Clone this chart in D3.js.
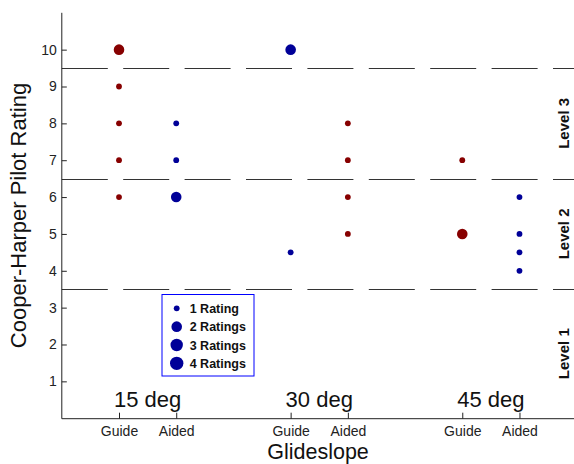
<!DOCTYPE html>
<html><head><meta charset="utf-8">
<script src="https://cdn.jsdelivr.net/npm/d3@7"></script>
<style>body{margin:0;background:#fff}svg{display:block;font-family:"Liberation Sans",Arial,sans-serif}</style>
</head><body>
<script>
// ---- data ----
const categories = ["Guide","Aided","Guide","Aided","Guide","Aided"];
const categoryX = [1,2,4,5,7,8];
const categorySeries = ["red","blue","blue","red","red","blue"];
const groups = ["15 deg","30 deg","45 deg"];
const groupX = [1.5,4.5,7.5];
const pointCategory = [0,0,0,0,0, 1,1,1, 2,2, 3,3,3,3, 4,4, 5,5,5,5];
const pointRating   = [10,9,8,7,6, 8,7,6, 10,4.5, 8,7,6,5, 7,5, 6,5,4.5,4];
const pointCount    = [2,1,1,1,1, 1,1,2, 2,1, 1,1,1,1, 1,2, 1,1,1,1];
const yTicks = [1,2,3,4,5,6,7,8,9,10];
const boundaries = [3.5,6.5,9.5];
const levelLabels = ["Level 1","Level 2","Level 3"];
const levelY = [1.75,5,8];
const legendCounts = [1,2,3,4];
const legendLabels = ["1 Rating","2 Ratings","3 Ratings","4 Ratings"];

// ---- layout ----
const W=574,H=464;
const svg=d3.select("body").append("svg").attr("width",W).attr("height",H);
const x=d3.scaleLinear().domain([0,9]).range([61.8,61.8+9*57.21]);
const y=d3.scaleLinear().domain([0,11]).range([418.2,12.8]);
const r=d3.scaleOrdinal().domain([1,2,3,4]).range([2.9,5.3,6.2,6.7]);
const color=d3.scaleOrdinal().domain(["red","blue"]).range(["#870000","#000098"]);
const axisColor="#222";

// boundaries (dashed)
svg.append("g").selectAll("line").data(boundaries).join("line")
  .attr("x1",x(0)).attr("x2",W+10).attr("y1",d=>Math.round(y(d))+0.5).attr("y2",d=>Math.round(y(d))+0.5)
  .attr("stroke","#333").attr("stroke-width",1.2).attr("stroke-dasharray","46,15.4");

// y axis
const yAxis=d3.axisLeft(y).tickValues(yTicks).tickSize(-5).tickPadding(5).tickFormat(d3.format("d"));
const gy=svg.append("g").attr("transform",`translate(${x(0)},0)`).call(yAxis);
gy.select(".domain").attr("d",`M0,${y(11)}V${y(0)+0.5}`).attr("stroke",axisColor);
gy.selectAll(".tick line").attr("stroke",axisColor);
gy.selectAll(".tick text").attr("font-size",14).attr("fill","#222").attr("font-family","Liberation Sans, Arial, sans-serif");

// x axis
const xAxis=d3.axisBottom(x).tickValues(categoryX).tickSize(-6).tickPadding(7.5).tickFormat((d,i)=>categories[i]);
const gx=svg.append("g").attr("transform",`translate(0,${y(0)+0.5})`).call(xAxis);
gx.select(".domain").attr("d",`M${x(0)},0H${W+10}`).attr("stroke",axisColor);
gx.selectAll(".tick line").attr("stroke",axisColor);
gx.selectAll(".tick text").attr("font-size",14).attr("fill","#222").attr("font-family","Liberation Sans, Arial, sans-serif");

// group labels
svg.append("g").selectAll("text").data(groups).join("text")
  .attr("x",(d,i)=>x(groupX[i])).attr("y",y(0.31)).attr("text-anchor","middle")
  .attr("font-size",22).attr("fill","#111").text(d=>d);

// level labels
svg.append("g").selectAll("text").data(levelLabels).join("text")
  .attr("transform",(d,i)=>`translate(${x(8.86)},${y(levelY[i])}) rotate(-90)`)
  .attr("text-anchor","middle").attr("font-size",15).attr("font-weight","bold").attr("fill","#111").text(d=>d);

// axis titles
svg.append("text").attr("transform",`translate(26,${(y(11)+y(0))/2}) rotate(-90)`)
  .attr("text-anchor","middle").attr("font-size",22).attr("fill","#111").text("Cooper-Harper Pilot Rating");
svg.append("text").attr("x",318).attr("y",459.3).attr("text-anchor","middle")
  .attr("font-size",21.5).attr("fill","#111").text("Glideslope");

// points
svg.append("g").selectAll("circle").data(pointRating).join("circle")
  .attr("cx",(d,i)=>x(categoryX[pointCategory[i]])).attr("cy",d=>y(d))
  .attr("r",(d,i)=>r(pointCount[i])).attr("fill",(d,i)=>color(categorySeries[pointCategory[i]]));

// legend
const lg=svg.append("g");
lg.append("rect").attr("x",162).attr("y",294.5).attr("width",92).attr("height",81.5)
  .attr("fill","#fff").attr("stroke","#0000ff").attr("stroke-width",1);
const rows=lg.selectAll("g.row").data(legendCounts).join("g").attr("class","row")
  .attr("transform",(d,i)=>`translate(176.7,${308.3+i*18.35})`);
rows.append("circle").attr("r",d=>r(d)).attr("fill",color("blue"));
rows.append("text").attr("x",13).attr("dy","0.36em").attr("font-size",12.5).attr("font-weight","bold")
  .attr("fill","#111").text((d,i)=>legendLabels[i]);
</script>
</body></html>
